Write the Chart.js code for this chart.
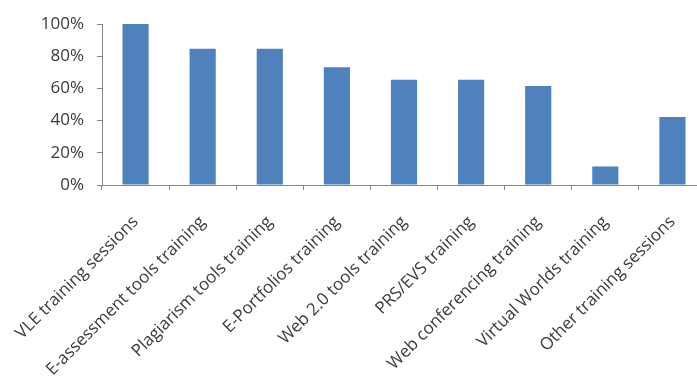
<!DOCTYPE html>
<html>
<head>
<meta charset="utf-8">
<script src="https://cdn.jsdelivr.net/npm/chart.js@4.4.1/dist/chart.umd.min.js"></script>
<style>
    html, body { margin: 0; padding: 0; background: #fff; overflow: hidden; }
    #wrap { width: 706px; height: 377px; }
</style>
</head>
<body>
<div id="wrap"><canvas id="trainingChart" width="706" height="377"></canvas></div>
<script>
const categories = [
    'VLE training sessions',
    'E-assessment tools training',
    'Plagiarism tools training',
    'E-Portfolios training',
    'Web 2.0 tools training',
    'PRS/EVS training',
    'Web conferencing training',
    'Virtual Worlds training',
    'Other training sessions'
];
const percentValues = [100, 84.6, 84.6, 73.1, 65.4, 65.4, 61.5, 11.5, 42.3];
const yTicks = [0, 20, 40, 60, 80, 100];

const axisGray = '#868686';
const textGray = '#3a3a3a';

document.addEventListener('DOMContentLoaded', () => {
    renderTrainingChart();
});

function renderTrainingChart() {
    const ctx = document.getElementById('trainingChart').getContext('2d');

    new Chart(ctx, {
        type: 'bar',
        data: {
            labels: categories,
            datasets: [{
                data: percentValues,
                backgroundColor: '#4F81BD',
                borderWidth: 0,
                categoryPercentage: 1,
                barPercentage: 0.39
            }]
        },
        options: {
            responsive: false,
            animation: false,
            layout: { padding: { top: 24, right: 0, bottom: 0, left: 0 } },
            plugins: {
                legend: { display: false },
                tooltip: { enabled: false }
            },
            scales: {
                y: {
                    min: 0,
                    max: 100,
                    afterFit: (scale) => {
                        scale.width = 102;
                        scale.paddingTop = 0;
                        scale.paddingBottom = 0;
                    },
                    afterBuildTicks: (scale) => {
                        scale.ticks = yTicks.map(v => ({ value: v }));
                    },
                    ticks: {
                        callback: (v) => v + '%',
                        color: textGray,
                        font: { family: 'Open Sans', size: 17 },
                        padding: 13
                    },
                    grid: {
                        drawOnChartArea: false,
                        drawTicks: true,
                        tickLength: 5,
                        color: axisGray
                    },
                    border: { color: axisGray, width: 1 }
                },
                x: {
                    afterFit: (scale) => {
                        scale.height = 377 - 24 - 161;
                        scale.paddingLeft = 0;
                        scale.paddingRight = 0;
                    },
                    ticks: {
                        autoSkip: false,
                        maxRotation: 45,
                        minRotation: 45,
                        color: textGray,
                        font: { family: 'Open Sans', size: 17 },
                        padding: 22
                    },
                    grid: {
                        drawOnChartArea: false,
                        drawTicks: true,
                        tickLength: 5,
                        color: axisGray
                    },
                    border: { color: axisGray, width: 1 }
                }
            }
        }
    });
}
</script>
</body>
</html>
